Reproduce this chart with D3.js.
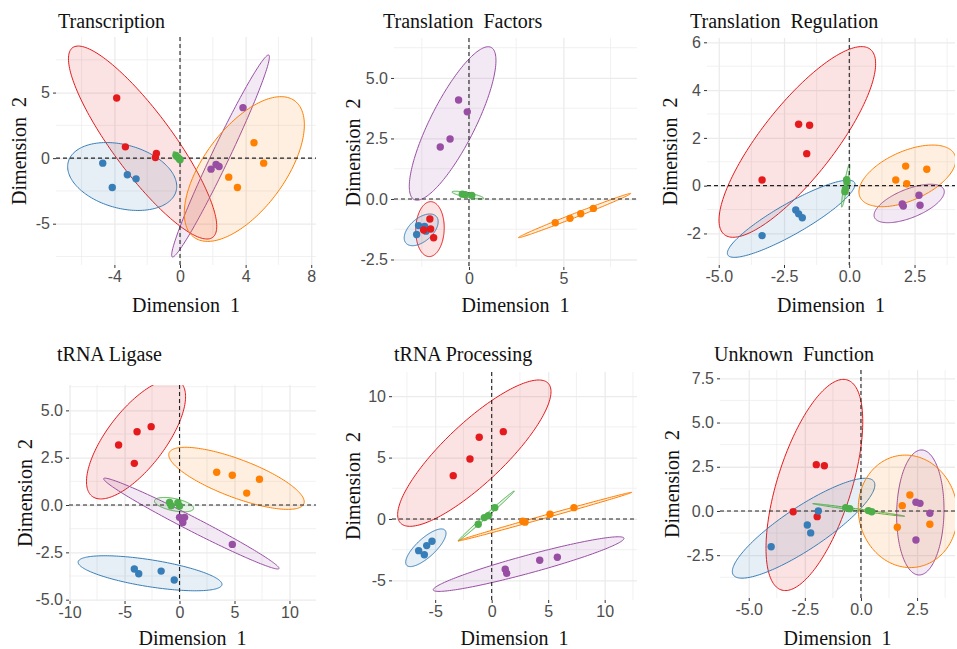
<!DOCTYPE html>
<html>
<head>
<meta charset="utf-8">
<script src="https://cdn.jsdelivr.net/npm/d3@7"></script>
<style>
  body { margin: 0; background: #fff; }
  svg { display: block; }
</style>
</head>
<body>
<div id="chart"></div>
<script>
// clusters 1..5 (Set1 colours)
const groups = ['1', '2', '3', '4', '5'];

// points: [cluster, dim1, dim2]
const transcriptionPoints = [
  ['1', -3.86, 4.59], ['1', -3.33, 0.86], ['1', -1.44, 0.35], ['1', -1.5, 0.05],
  ['2', -4.71, -0.38], ['2', -4.13, -2.24], ['2', -3.21, -1.27], ['2', -2.68, -1.58],
  ['3', -0.25, 0.2], ['3', -0.15, 0.08], ['3', -0.05, -0.05], ['3', 0.0, -0.12],
  ['4', 3.84, 3.85], ['4', 1.89, -0.84], ['4', 2.2, -0.49], ['4', 2.38, -0.64],
  ['5', 4.51, 1.17], ['5', 5.1, -0.38], ['5', 2.97, -1.45], ['5', 3.5, -2.24]
];
const factorsPoints = [
  ['2', -2.67, -1.1], ['2', -2.35, -1.14], ['2', -2.28, -1.33], ['2', -2.77, -1.47],
  ['1', -2.07, -0.83], ['1', -2.03, -1.24], ['1', -1.87, -1.6], ['1', -2.4, -1.28],
  ['3', -0.35, 0.2], ['3', -0.2, 0.18], ['3', 0.15, 0.15],
  ['4', -0.55, 4.09], ['4', -0.09, 3.6], ['4', -1.0, 2.48], ['4', -1.52, 2.15],
  ['5', 4.57, -0.98], ['5', 5.35, -0.8], ['5', 5.92, -0.61], ['5', 6.59, -0.39]
];
const regulationPoints = [
  ['1', -1.94, 2.57], ['1', -1.52, 2.53], ['1', -1.63, 1.34], ['1', -3.34, 0.24],
  ['2', -3.34, -2.09], ['2', -2.05, -1.02], ['2', -1.94, -1.18], ['2', -1.8, -1.34],
  ['3', -0.1, 0.25], ['3', -0.09, 0.15], ['3', -0.15, -0.15], ['3', -0.17, -0.25],
  ['5', 2.16, 0.82], ['5', 2.97, 0.69], ['5', 1.78, 0.24], ['5', 2.2, 0.08],
  ['4', 2.67, -0.4], ['4', 2.07, -0.85], ['4', 2.71, -0.82], ['4', 2.03, -0.77]
];
const ligasePoints = [
  ['1', -5.54, 3.17], ['1', -3.86, 3.87], ['1', -2.58, 4.14], ['1', -4.11, 2.2],
  ['5', 3.38, 1.73], ['5', 4.8, 1.57], ['5', 7.27, 1.36], ['5', 6.11, 0.63],
  ['3', -0.91, 0.14], ['3', -0.15, 0.12], ['3', -0.76, -0.04], ['3', 0.0, -0.05],
  ['4', 0.0, -0.65], ['4', 0.46, -0.65], ['4', 0.3, -0.92], ['4', 4.8, -2.08],
  ['2', -4.11, -3.38], ['2', -3.71, -3.63], ['2', -1.67, -3.49], ['2', -0.48, -3.96]
];
const processingPoints = [
  ['1', -3.4, 3.53], ['1', -1.92, 4.89], ['1', -1.1, 6.65], ['1', 1.03, 7.11],
  ['3', -1.19, -0.43], ['3', -0.65, 0.11], ['3', -0.3, 0.27], ['3', 0.27, 0.92],
  ['5', 2.75, -0.18], ['5', 2.95, -0.26], ['5', 5.16, 0.38], ['5', 7.28, 0.92],
  ['2', -6.46, -2.58], ['2', -5.96, -2.91], ['2', -5.75, -2.17], ['2', -5.28, -1.82],
  ['4', 1.2, -4.1], ['4', 1.33, -4.42], ['4', 4.25, -3.36], ['4', 5.81, -3.12]
];
const unknownPoints = [
  ['1', -1.99, 2.62], ['1', -1.63, 2.56], ['1', -3.02, -0.04], ['1', -1.95, -0.32],
  ['2', -1.9, 0.0], ['2', -2.39, -0.79], ['2', -2.24, -1.24], ['2', -4.0, -2.02],
  ['3', -0.5, 0.13], ['3', -0.68, 0.19], ['3', 0.33, 0.02], ['3', 0.48, -0.04],
  ['5', 2.18, 0.9], ['5', 1.84, 0.3], ['5', 1.62, -0.92], ['5', 3.07, -0.75],
  ['4', 2.45, 0.49], ['4', 2.63, 0.43], ['4', 3.07, -0.13], ['4', 2.45, -1.64]
];

// ellipses: [cluster, xmin, xmax, ymin, ymax, rho]
const transcriptionEllipses = [
  ['1', -6.8, 2.24, -6.17, 8.55, -0.868],
  ['2', -6.85, -0.2, -3.99, 1.19, -0.29],
  ['3', -0.41, 0.1, -0.26, 0.5, -0.85],
  ['4', -0.51, 5.45, -7.54, 7.87, 0.98],
  ['5', 0.26, 7.58, -6.35, 4.69, 0.61]
];
const factorsEllipses = [
  ['1', -2.82, -1.31, -2.38, -0.11, 0.05],
  ['2', -3.43, -1.63, -1.93, -0.62, 0.51],
  ['3', -0.9, 0.78, 0.0, 0.32, -0.8],
  ['4', -3.16, 1.43, -0.05, 6.29, 0.82],
  ['5', 2.62, 8.57, -1.6, 0.23, 0.995]
];
const regulationEllipses = [
  ['1', -4.99, 1.01, -2.16, 5.82, 0.82],
  ['2', -4.67, 0.22, -3.0, 0.23, 0.89],
  ['3', -0.3, 0.02, -0.9, 0.9, 0.92],
  ['4', 0.95, 3.64, -1.55, 0.06, 0.61],
  ['5', 0.37, 4.08, -0.88, 1.7, 0.52]
];
const ligaseEllipses = [
  ['1', -8.46, 0.55, 0.32, 6.64, 0.71],
  ['2', -9.22, 3.86, -4.53, -2.68, -0.63],
  ['3', -2.28, 1.28, -0.36, 0.4, -0.5],
  ['4', -6.9, 9.05, -3.38, 1.42, -0.985],
  ['5', -0.98, 11.34, -0.23, 3.05, -0.756]
];
const processingEllipses = [
  ['1', -8.32, 5.25, -0.6, 11.32, 0.84],
  ['2', -7.61, -4.04, -3.88, -0.81, 0.77],
  ['3', -2.96, 2.0, -1.79, 2.28, 0.997],
  ['4', -5.17, 11.71, -5.9, -1.45, 0.94],
  ['5', -2.96, 12.39, -1.79, 2.17, 0.998]
];
const unknownEllipses = [
  ['1', -4.23, 0.08, -4.5, 7.44, 0.6],
  ['2', -5.73, 0.62, -3.8, 1.85, 0.865],
  ['3', -2.15, 1.95, -0.3, 0.42, -0.99],
  ['4', 1.59, 3.7, -3.62, 3.45, 0.05],
  ['5', -0.12, 4.3, -3.2, 3.16, -0.05]
];

const titles = ['Transcription', 'Translation  Factors', 'Translation  Regulation',
  'tRNA Ligase', 'tRNA Processing', 'Unknown  Function'];

// axis limits
const xLimits = [[-7.56, 8.29], [-3.97, 8.9], [-5.45, 4.05], [-10.05, 12.41], [-8.82, 12.86], [-6.28, 4.19]];
const yLimits = [[-8.15, 9.24], [-2.81, 6.65], [-3.32, 6.18], [-5.07, 6.34], [-6.6, 11.97], [-4.92, 7.97]];

// tick labels
const xTicks = [
  ['-4', '0', '4', '8'],
  ['0', '5'],
  ['-5.0', '-2.5', '0.0', '2.5'],
  ['-10', '-5', '0', '5', '10'],
  ['-5', '0', '5', '10'],
  ['-5.0', '-2.5', '0.0', '2.5']
];
const yTicks = [
  ['-5', '0', '5'],
  ['-2.5', '0.0', '2.5', '5.0'],
  ['-2', '0', '2', '4', '6'],
  ['-5.0', '-2.5', '0.0', '2.5', '5.0'],
  ['-5', '0', '5', '10'],
  ['-2.5', '0.0', '2.5', '5.0', '7.5']
];
const xMinor = [[-6, -2, 2, 6], [-2.5, 2.5, 7.5], [-3.75, -1.25, 1.25, 3.75],
  [-7.5, -2.5, 2.5, 7.5, 12.5], [-7.5, -2.5, 2.5, 7.5, 12.5], [-3.75, -1.25, 1.25, 3.75]];
const yMinor = [[-7.5, -2.5, 2.5, 7.5], [-1.25, 1.25, 3.75, 6.25], [-3, -1, 1, 3, 5],
  [-3.75, -1.25, 1.25, 3.75, 6.25], [-2.5, 2.5, 7.5], [-3.75, -1.25, 1.25, 3.75, 6.25]];

const allPoints = [transcriptionPoints, factorsPoints, regulationPoints, ligasePoints, processingPoints, unknownPoints];
const allEllipses = [transcriptionEllipses, factorsEllipses, regulationEllipses, ligaseEllipses, processingEllipses, unknownEllipses];

// panel boxes in pixels
const layout = [
  { left: 56, right: 316, top: 37, bottom: 265, titleX: 58, titleY: 28, ylabX: 26, xlabY: 312 },
  { left: 394, right: 637, top: 38, bottom: 267, titleX: 383, titleY: 28, ylabX: 360, xlabY: 312 },
  { left: 707, right: 955, top: 38, bottom: 265, titleX: 690, titleY: 28, ylabX: 677, xlabY: 312 },
  { left: 69, right: 316, top: 385, bottom: 601, titleX: 57, titleY: 361, ylabX: 32, xlabY: 645 },
  { left: 392, right: 637, top: 372, bottom: 600, titleX: 394, titleY: 361, ylabX: 360, xlabY: 645 },
  { left: 720, right: 955, top: 370, bottom: 598, titleX: 714, titleY: 361, ylabX: 679, xlabY: 645 }
];

const width = 957;
const height = 649;

const color = d3.scaleOrdinal()
  .domain(groups)
  .range(['#E41A1C', '#377EB8', '#4DAF4A', '#984EA3', '#FF7F00']);

const svg = d3.select('#chart')
  .append('svg')
  .attr('width', width)
  .attr('height', height);

const serif = '"Liberation Serif", "Times New Roman", serif';
const sans = '"Liberation Sans", Arial, sans-serif';

layout.forEach((box, i) => {
  const xScale = d3.scaleLinear().domain(xLimits[i]).range([box.left, box.right]);
  const yScale = d3.scaleLinear().domain(yLimits[i]).range([box.bottom, box.top]);

  const g = svg.append('g');

  g.append('clipPath')
    .attr('id', 'clip' + i)
    .append('rect')
    .attr('x', box.left)
    .attr('y', box.top)
    .attr('width', box.right - box.left)
    .attr('height', box.bottom - box.top);

  // minor grid
  g.selectAll('.vminor')
    .data(xMinor[i].filter(d => xScale(d) >= box.left && xScale(d) <= box.right))
    .enter().append('line')
    .attr('x1', d => xScale(d)).attr('x2', d => xScale(d))
    .attr('y1', box.top).attr('y2', box.bottom)
    .attr('stroke', '#EBEBEB').attr('stroke-width', 0.7);
  g.selectAll('.hminor')
    .data(yMinor[i].filter(d => yScale(d) >= box.top && yScale(d) <= box.bottom))
    .enter().append('line')
    .attr('x1', box.left).attr('x2', box.right)
    .attr('y1', d => yScale(d)).attr('y2', d => yScale(d))
    .attr('stroke', '#EBEBEB').attr('stroke-width', 0.7);

  // major grid + axes
  const xVals = xTicks[i].map(Number);
  const yVals = yTicks[i].map(Number);

  const xAxis = d3.axisBottom(xScale)
    .tickValues(xVals)
    .tickFormat((d, k) => xTicks[i][k])
    .tickSize(box.bottom - box.top)
    .tickPadding(6);
  const xg = g.append('g')
    .attr('transform', `translate(0, ${box.top})`)
    .call(xAxis);
  xg.select('.domain').remove();
  xg.selectAll('.tick line').attr('stroke', '#EBEBEB').attr('stroke-width', 1.3);
  xg.selectAll('.tick')
    .append('line')
    .attr('y1', box.bottom - box.top)
    .attr('y2', box.bottom - box.top + 3)
    .attr('stroke', '#333');
  xg.selectAll('.tick text')
    .attr('fill', '#4D4D4D')
    .style('font-family', sans)
    .style('font-size', '16px');

  const yAxis = d3.axisLeft(yScale)
    .tickValues(yVals)
    .tickFormat((d, k) => yTicks[i][k])
    .tickSize(-(box.right - box.left))
    .tickPadding(6);
  const yg = g.append('g')
    .attr('transform', `translate(${box.left}, 0)`)
    .call(yAxis);
  yg.select('.domain').remove();
  yg.selectAll('.tick line').attr('stroke', '#EBEBEB').attr('stroke-width', 1.3);
  yg.selectAll('.tick')
    .append('line')
    .attr('x1', -3)
    .attr('x2', 0)
    .attr('stroke', '#333');
  yg.selectAll('.tick text')
    .attr('fill', '#4D4D4D')
    .style('font-family', sans)
    .style('font-size', '16px');

  const plot = g.append('g').attr('clip-path', `url(#clip${i})`);

  // ellipses
  const line = d3.line().curve(d3.curveLinearClosed);
  const steps = d3.range(0, 2 * Math.PI, Math.PI / 90);
  plot.selectAll('.ellipse')
    .data(allEllipses[i])
    .enter().append('path')
    .attr('d', e => {
      const cx = (e[1] + e[2]) / 2, rx = (e[2] - e[1]) / 2;
      const cy = (e[3] + e[4]) / 2, ry = (e[4] - e[3]) / 2;
      const phi = Math.acos(e[5]);
      return line(steps.map(t => [xScale(cx + rx * Math.cos(t)), yScale(cy + ry * Math.cos(t - phi))]));
    })
    .attr('fill', e => color(e[0]))
    .attr('fill-opacity', 0.12)
    .attr('stroke', e => color(e[0]))
    .attr('stroke-width', 1);

  // zero lines
  plot.append('line')
    .attr('x1', xScale(0)).attr('x2', xScale(0))
    .attr('y1', box.top).attr('y2', box.bottom)
    .attr('stroke', '#222').attr('stroke-width', 1.1)
    .attr('stroke-dasharray', '4,3');
  plot.append('line')
    .attr('x1', box.left).attr('x2', box.right)
    .attr('y1', yScale(0)).attr('y2', yScale(0))
    .attr('stroke', '#222').attr('stroke-width', 1.1)
    .attr('stroke-dasharray', '4,3');

  // points
  plot.selectAll('.pt')
    .data(allPoints[i])
    .enter().append('circle')
    .attr('cx', d => xScale(d[1]))
    .attr('cy', d => yScale(d[2]))
    .attr('r', 3.7)
    .attr('fill', d => color(d[0]));

  // titles
  g.append('text')
    .attr('x', box.titleX)
    .attr('y', box.titleY)
    .style('font-family', serif)
    .style('font-size', '20px')
    .style('white-space', 'pre')
    .attr('fill', '#111')
    .text(titles[i]);

  g.append('text')
    .attr('x', (box.left + box.right) / 2)
    .attr('y', box.xlabY)
    .attr('text-anchor', 'middle')
    .style('font-family', serif)
    .style('font-size', '20px')
    .style('white-space', 'pre')
    .attr('fill', '#111')
    .text('Dimension  1');

  g.append('text')
    .attr('transform', `translate(${box.ylabX}, ${(box.top + box.bottom) / 2}) rotate(-90)`)
    .attr('text-anchor', 'middle')
    .style('font-family', serif)
    .style('font-size', '20px')
    .style('white-space', 'pre')
    .attr('fill', '#111')
    .text('Dimension  2');
});
</script>
</body>
</html>
